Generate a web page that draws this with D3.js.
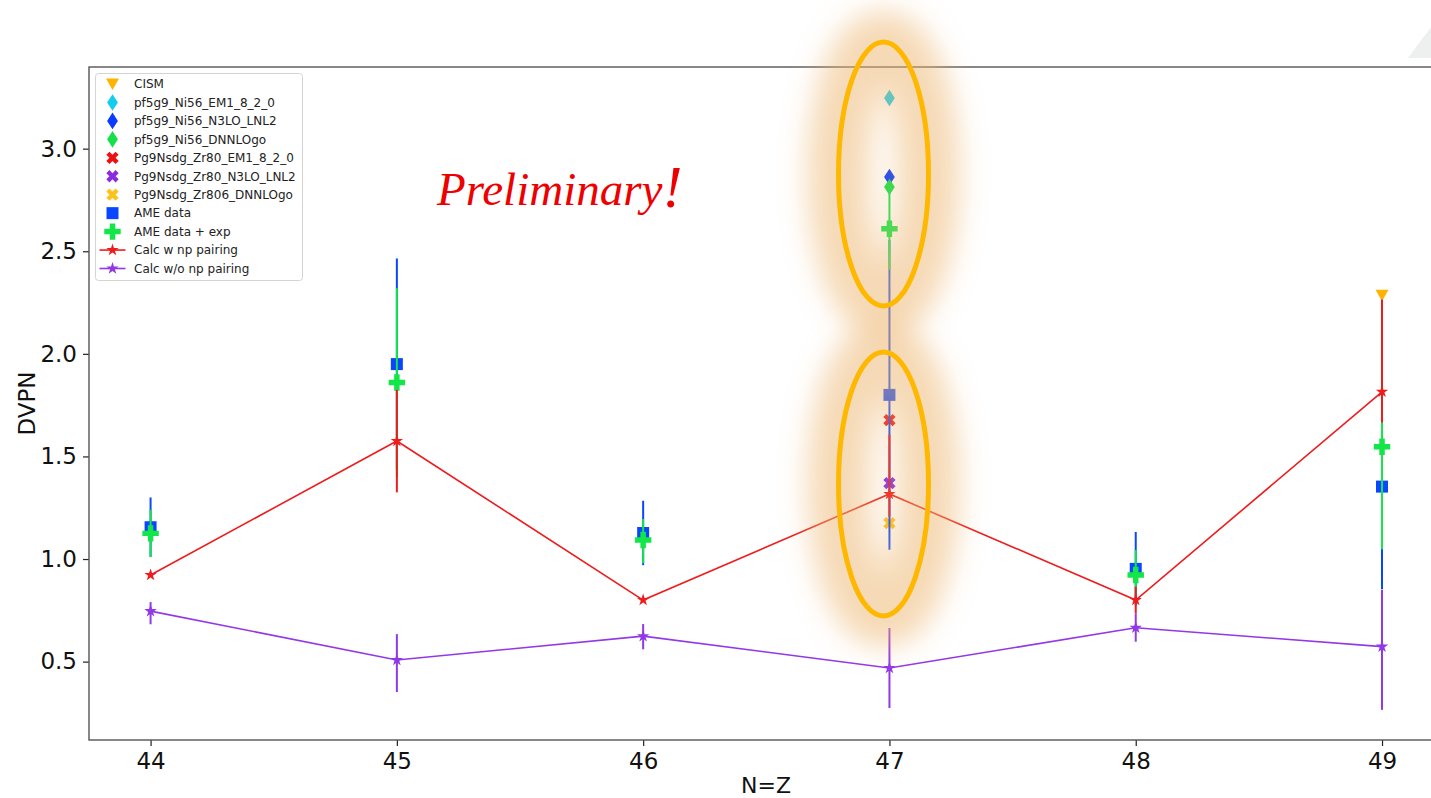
<!DOCTYPE html>
<html>
<head>
<meta charset="utf-8">
<script src="https://cdn.jsdelivr.net/npm/d3@7"></script>
<style>
  html, body { margin: 0; padding: 0; background: #ffffff; }
  svg { display: block; }
</style>
</head>
<body>
<svg id="chart" width="1431" height="798"></svg>
<script>
// ---------------- DATA ----------------
const xCats = [44, 45, 46, 47, 48, 49];
const yTicks = [0.5, 1.0, 1.5, 2.0, 2.5, 3.0];

// AME data (blue squares)
const ameData   = [1.155, 1.950, 1.127, 1.800, 0.952, 1.353];
const ameLo     = [0.145, 0.515, 0.157, 0.755, 0.180, 0.500];
const ameHi     = [0.145, 0.515, 0.157, 0.755, 0.180, 0.500];
// AME data + exp (green plus)
const ameExp    = [1.125, 1.860, 1.093, 2.610, 0.922, 1.547];
const ameExpLo  = [0.115, 0.460, 0.113, 0.200, 0.122, 0.500];
const ameExpHi  = [0.115, 0.460, 0.102, 0.200, 0.122, 0.500];
// Calc w np pairing (red)
const calcNp    = [0.922, 1.575, 0.800, 1.317, 0.800, 1.815];
const calcNpLo  = [0.000, 0.250, 0.000, 0.110, 0.065, 0.150];
const calcNpHi  = [0.000, 0.250, 0.000, 0.290, 0.065, 0.450];
// Calc w/o np pairing (purple)
const calcNoNp   = [0.746, 0.508, 0.624, 0.469, 0.665, 0.573];
const calcNoNpLo = [0.064, 0.156, 0.064, 0.195, 0.068, 0.308];
const calcNoNpHi = [0.044, 0.126, 0.059, 0.195, 0.070, 0.277];

// single-point series
const cismX = [49],  cismY = [2.285];
const pfEM1X = [47], pfEM1Y = [3.247];
const pfN3LOX = [47], pfN3LOY = [2.862];
const pfDNNLOX = [47], pfDNNLOY = [2.813];
const pgEM1X = [47], pgEM1Y = [1.677];
const pgN3LOX = [47], pgN3LOY = [1.370];
const pgDNNLOX = [47], pgDNNLOY = [1.175];

const legendLabels = ["CISM", "pf5g9_Ni56_EM1_8_2_0", "pf5g9_Ni56_N3LO_LNL2", "pf5g9_Ni56_DNNLOgo",
  "Pg9Nsdg_Zr80_EM1_8_2_0", "Pg9Nsdg_Zr80_N3LO_LNL2", "Pg9Nsdg_Zr806_DNNLOgo",
  "AME data", "AME data + exp", "Calc w np pairing", "Calc w/o np pairing"];

// ---------------- STYLE ----------------
const C = {
  cism: "#ffb300", pfEM1: "#12cdf0", pfN3LO: "#0a3cff", pfDNNLO: "#14e04a",
  pgEM1: "#ee1111", pgN3LO: "#8a2be2", pgDNNLO: "#ffc21a",
  ame: "#0a46ff", ameExp: "#12e648", red: "#ee1c1c", purple: "#9238e6"
};
const font = "DejaVu Sans, Liberation Sans, sans-serif";

const svg = d3.select("#chart");
const x = d3.scaleLinear().domain([43.75, 49.25]).range([89, 1443.6]);
const y = d3.scaleLinear().domain([0.118, 3.398]).range([740, 67]);

// marker shape generators (relative to marker center)
const shapes = {
  square: d3.symbol().type(d3.symbolSquare).size(144)(),
  plus: d3.symbol().type(d3.symbolCross).size(150)(),
  xmark: d3.symbol().type(d3.symbolCross).size(95)(),
  star: d3.symbol().type(d3.symbolStar).size(48)(),
  diamond: (() => { const p = d3.path(); p.moveTo(0, -8.3); p.lineTo(5.4, 0); p.lineTo(0, 8.3); p.lineTo(-5.4, 0); p.closePath(); return p.toString(); })(),
  tridown: (() => { const p = d3.path(); p.moveTo(-6.5, -5.5); p.lineTo(6.5, -5.5); p.lineTo(0, 6); p.closePath(); return p.toString(); })()
};
const rot = { xmark: 45 };

const plot = svg.append("g");

// frame background
plot.append("rect").attr("x", 89).attr("y", 67).attr("width", 1443.6 - 89).attr("height", 740 - 67)
  .attr("fill", "#ffffff");

// ---------- scatter series (drawn beneath error-bar series) ----------
function scatter(xs, ys, shape, color) {
  plot.append("g").selectAll("path").data(xs.map((d, i) => [d, ys[i]])).join("path")
    .attr("d", shapes[shape])
    .attr("transform", d => `translate(${x(d[0])},${y(d[1])}) rotate(${rot[shape] || 0})`)
    .attr("fill", color);
}
scatter(cismX, cismY, "tridown", C.cism);
scatter(pfEM1X, pfEM1Y, "diamond", C.pfEM1);
scatter(pfN3LOX, pfN3LOY, "diamond", C.pfN3LO);
scatter(pfDNNLOX, pfDNNLOY, "diamond", C.pfDNNLO);
scatter(pgEM1X, pgEM1Y, "xmark", C.pgEM1);
scatter(pgN3LOX, pgN3LOY, "xmark", C.pgN3LO);
scatter(pgDNNLOX, pgDNNLOY, "xmark", C.pgDNNLO);

// ---------- error bar series ----------
function errSeries(vals, lo, hi, shape, color, withLine) {
  const g = plot.append("g");
  const pts = xCats.map((c, i) => ({ c, v: vals[i], lo: lo[i], hi: hi[i] }));
  g.selectAll("line.eb").data(pts.filter(d => d.lo + d.hi > 0)).join("line")
    .attr("x1", d => x(d.c)).attr("x2", d => x(d.c))
    .attr("y1", d => y(d.v - d.lo)).attr("y2", d => y(d.v + d.hi))
    .attr("stroke", color).attr("stroke-width", 2);
  if (withLine) {
    g.append("path").datum(pts)
      .attr("d", d3.line().x(d => x(d.c)).y(d => y(d.v)))
      .attr("fill", "none").attr("stroke", color).attr("stroke-width", 1.6);
  }
  g.selectAll("path.m").data(pts).join("path")
    .attr("d", shapes[shape])
    .attr("transform", d => `translate(${x(d.c)},${y(d.v)})`)
    .attr("fill", color);
}
errSeries(ameData, ameLo, ameHi, "square", C.ame, false);
errSeries(ameExp, ameExpLo, ameExpHi, "plus", C.ameExp, false);
errSeries(calcNp, calcNpLo, calcNpHi, "star", C.red, true);
errSeries(calcNoNp, calcNoNpLo, calcNoNpHi, "star", C.purple, true);

// ---------- axes ----------
const xAxis = svg.append("g").attr("transform", "translate(0,740)")
  .call(d3.axisBottom(x).tickValues(xCats).tickFormat(d3.format("d")).tickSize(6).tickPadding(7));
const yAxis = svg.append("g").attr("transform", "translate(89,0)")
  .call(d3.axisLeft(y).tickValues(yTicks).tickFormat(d3.format(".1f")).tickSize(6).tickPadding(6));
[xAxis, yAxis].forEach(a => {
  a.select(".domain").remove();
  a.selectAll(".tick line").attr("stroke", "#222").attr("stroke-width", 1.2);
  a.selectAll(".tick text").attr("font-family", font).attr("font-size", 23).attr("fill", "#111");
});
// spines
svg.append("rect").attr("x", 89).attr("y", 67).attr("width", 1443.6 - 89).attr("height", 740 - 67)
  .attr("fill", "none").attr("stroke", "#555").attr("stroke-width", 1.4);

svg.append("text").attr("x", 766).attr("y", 793).attr("text-anchor", "middle")
  .attr("font-family", font).attr("font-size", 22).attr("fill", "#111").text("N=Z");
svg.append("text").attr("transform", "translate(35,403.5) rotate(-90)").attr("text-anchor", "middle")
  .attr("font-family", font).attr("font-size", 23).attr("fill", "#111").text("DVPN");

// ---------- Preliminary annotation ----------
const pre = svg.append("text").attr("x", 437).attr("y", 205)
  .attr("font-family", "Liberation Serif, Times New Roman, serif").attr("font-style", "italic")
  .attr("fill", "#ee0000").attr("font-size", 47);
pre.append("tspan").text("Preliminary");
pre.append("tspan").attr("font-size", 60).attr("dy", 2).text("!");

// ---------- legend ----------
const lg = svg.append("g");
lg.append("rect").attr("x", 95.5).attr("y", 73.5).attr("width", 207).attr("height", 207)
  .attr("rx", 3).attr("fill", "#ffffff").attr("fill-opacity", 0.85)
  .attr("stroke", "#d4d4d4").attr("stroke-width", 1);
const legendItems = [
  { shape: "tridown", color: C.cism },
  { shape: "diamond", color: C.pfEM1 },
  { shape: "diamond", color: C.pfN3LO },
  { shape: "diamond", color: C.pfDNNLO },
  { shape: "xmark", color: C.pgEM1 },
  { shape: "xmark", color: C.pgN3LO },
  { shape: "xmark", color: C.pgDNNLO },
  { shape: "square", color: C.ame },
  { shape: "plus", color: C.ameExp },
  { shape: "star", color: C.red, line: true },
  { shape: "star", color: C.purple, line: true }
];
legendItems.forEach((it, i) => {
  const cy = 84 + i * 18.45;
  const g = lg.append("g");
  if (it.line) {
    g.append("line").attr("x1", 99.5).attr("x2", 125.5).attr("y1", cy).attr("y2", cy)
      .attr("stroke", it.color).attr("stroke-width", 1.6);
  }
  g.append("path").attr("d", shapes[it.shape])
    .attr("transform", `translate(112.5,${cy}) rotate(${rot[it.shape] || 0})`)
    .attr("fill", it.color);
  g.append("text").attr("x", 134).attr("y", cy).attr("dy", "0.36em")
    .attr("font-family", font).attr("font-size", 12).attr("fill", "#222").text(legendLabels[i]);
});

// ---------- highlight ellipses with glow ----------
const defs = svg.append("defs");
defs.append("filter").attr("id", "glow").attr("x", "-150%").attr("y", "-60%")
  .attr("width", "400%").attr("height", "220%")
  .append("feGaussianBlur").attr("stdDeviation", 14);
const ellipses = [ { cx: 883.5, cy: 174, rx: 45, ry: 132 }, { cx: 883.5, cy: 484, rx: 45, ry: 132 } ];
const hl = svg.append("g");
hl.selectAll("ellipse.glow").data(ellipses).join("ellipse")
  .attr("cx", d => d.cx).attr("cy", d => d.cy).attr("rx", d => d.rx).attr("ry", d => d.ry)
  .attr("fill", "none").attr("stroke", "#eeb66e").attr("stroke-width", 62)
  .attr("stroke-opacity", 0.5).attr("filter", "url(#glow)");
hl.selectAll("ellipse.ring").data(ellipses).join("ellipse")
  .attr("cx", d => d.cx).attr("cy", d => d.cy).attr("rx", d => d.rx).attr("ry", d => d.ry)
  .attr("fill", "none").attr("stroke", "#ffb800").attr("stroke-width", 5);

// slide corner artefact
svg.append("path").attr("d", "M1408,58 L1431,27 L1431,58 Z").attr("fill", "#eef0f0");
</script>
</body>
</html>
